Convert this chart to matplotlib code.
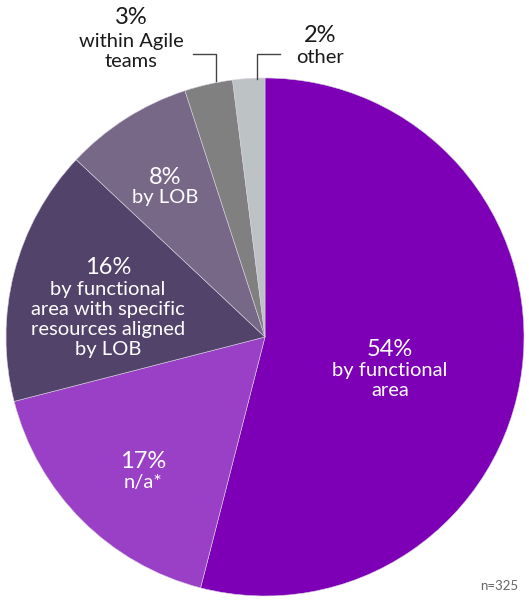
import matplotlib
matplotlib.use("Agg")
import matplotlib.pyplot as plt

values = [54, 17, 16, 8, 3, 2]
pcts = ["54%", "17%", "16%", "8%", "3%", "2%"]
labels = ["by functional\narea", "n/a*", "by functional\narea with specific\nresources aligned\nby LOB",
          "by LOB", "within Agile\nteams", "other"]
colors = ["#7D00B6", "#9A40C6", "#52436A", "#776888", "#808080", "#BDC2C4"]

plt.rcParams['font.family'] = ['Lato', 'DejaVu Sans']
W, H = 529, 600
fig = plt.figure(figsize=(W / 100, H / 100), dpi=100)
ax = fig.add_axes([0, 0, 1, 1])

cx, cy, r = 265, H - 337, 259
ax.pie(values, colors=colors, startangle=90, counterclock=False, center=(cx, cy), radius=r,
       wedgeprops=dict(edgecolor='#d8d0e0', linewidth=0.4), frame=True)
ax.set_xlim(0, W)
ax.set_ylim(0, H)
ax.set_aspect('equal')
ax.axis('off')

def Y(y):
    return H - y

PF, SF, LS = 17, 14.5, 1.22

# inside labels: (x, y of pct, y of first sub-line centre)
inside = [(390, 350, 370, 0), (143, 461, 482, 1), (108, 267, 289, 2), (165, 177, 197, 3)]
for x, yp, ys, i in inside:
    ax.text(x, Y(yp), pcts[i], color='white', fontsize=PF, ha='center', va='center')
    ax.text(x, Y(ys - 8), labels[i], color='white', fontsize=SF, ha='center', va='top',
            linespacing=LS)

# outside labels
ax.text(131, Y(18), pcts[4], color='#1a1a1a', fontsize=PF, ha='center', va='center')
ax.text(131, Y(33), labels[4], color='#1a1a1a', fontsize=SF, ha='center', va='top', linespacing=LS)
ax.text(320, Y(35), pcts[5], color='#1a1a1a', fontsize=PF, ha='center', va='center')
ax.text(320, Y(49), labels[5], color='#1a1a1a', fontsize=SF, ha='center', va='top')

ax.plot([193, 216, 216], [Y(54), Y(54), Y(81)], color='#444444', lw=1)
ax.plot([280, 257, 257], [Y(54), Y(54), Y(79)], color='#444444', lw=1)

ax.text(518, Y(586), "n=325", color='#666666', fontsize=9.5, ha='right', va='center')

fig.savefig("out.png", dpi=100)
